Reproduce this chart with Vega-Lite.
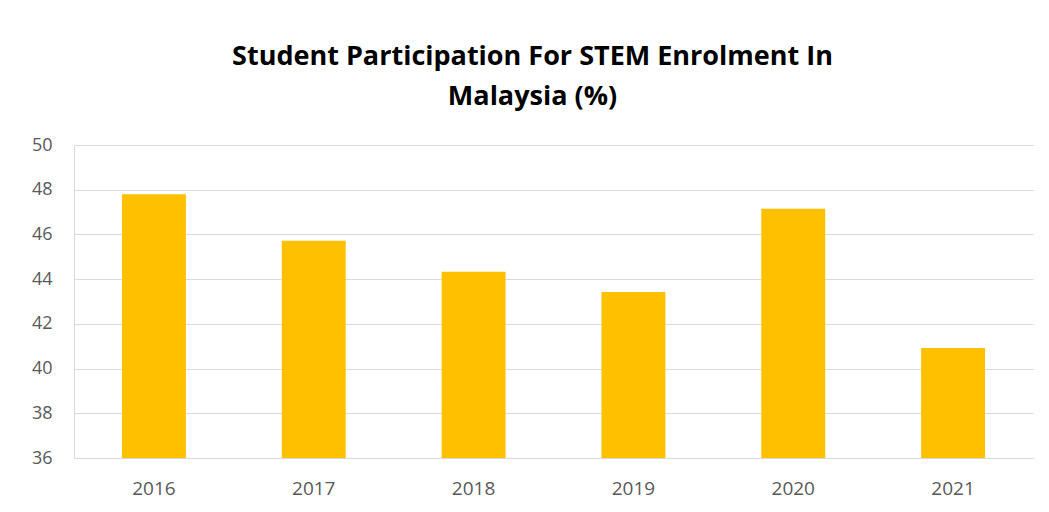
{
  "$schema": "https://vega.github.io/schema/vega-lite/v6.json",
  "width": 959,
  "height": 313,
  "autosize": {"type": "none"},
  "padding": {"left": 74, "top": 145, "right": 16, "bottom": 54},
  "background": "white",
  "title": {
    "text": ["Student Participation For STEM Enrolment In", "Malaysia (%)"],
    "font": "Open Sans",
    "fontSize": 27,
    "fontWeight": "bold",
    "color": "#000000",
    "lineHeight": 40,
    "anchor": "middle",
    "dx": -21,
    "offset": 25
  },
  "data": {
    "values": [
      {"year": "2016", "pct": 47.8},
      {"year": "2017", "pct": 45.72},
      {"year": "2018", "pct": 44.33},
      {"year": "2019", "pct": 43.43},
      {"year": "2020", "pct": 47.15},
      {"year": "2021", "pct": 40.92}
    ]
  },
  "mark": {"type": "bar", "color": "#FFC000"},
  "encoding": {
    "x": {
      "field": "year",
      "type": "ordinal",
      "scale": {"paddingInner": 0.6, "paddingOuter": 0.3},
      "axis": {
        "title": null,
        "labelAngle": 0,
        "ticks": false,
        "domain": true,
        "domainColor": "#d9d9d9",
        "domainWidth": 1,
        "labelFont": "Open Sans",
        "labelFontSize": 19,
        "labelColor": "#595959",
        "labelPadding": 21,
        "grid": false
      }
    },
    "y": {
      "field": "pct",
      "type": "quantitative",
      "scale": {"domain": [36, 50], "zero": false, "nice": false},
      "axis": {
        "title": null,
        "values": [36, 38, 40, 42, 44, 46, 48, 50],
        "ticks": false,
        "domain": true,
        "domainColor": "#d9d9d9",
        "grid": true,
        "gridColor": "#d9d9d9",
        "gridWidth": 1,
        "labelFont": "Open Sans",
        "labelFontSize": 18,
        "labelColor": "#595959",
        "labelPadding": 22
      }
    },
    "y2": {"datum": 36}
  },
  "config": {"view": {"stroke": null}}
}
